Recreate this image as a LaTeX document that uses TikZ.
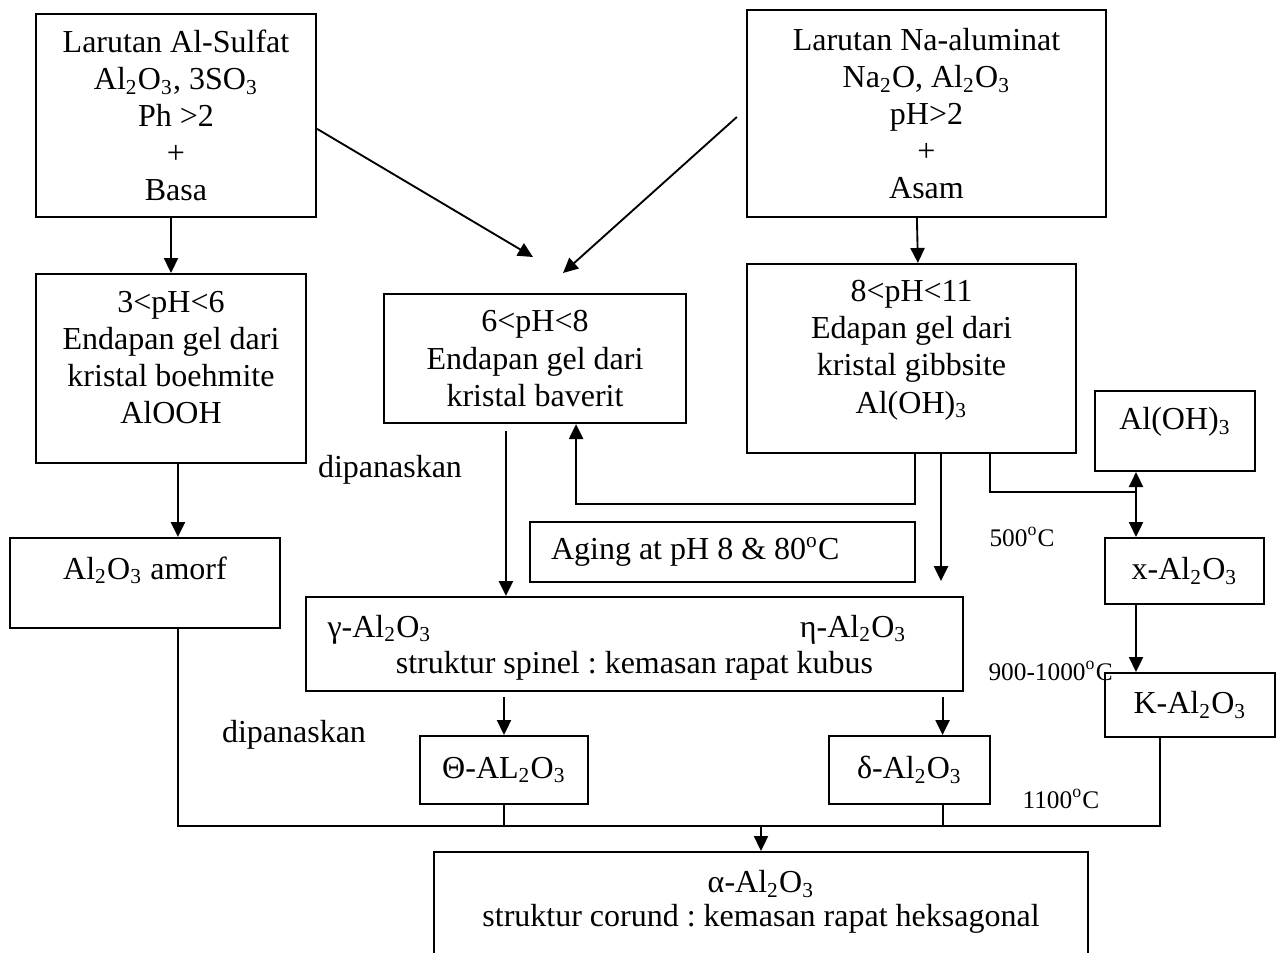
\documentclass[tikz,border=0pt]{standalone}
\usepackage{fontspec}
\setmainfont{Liberation Serif}
\usetikzlibrary{arrows.meta}

\tikzset{
  kotak/.style={draw, line width=0.8pt, align=center, inner sep=2pt},
  ukuran/.style 2 args={minimum width=#1*0.375pt, minimum height=#2*0.375pt},
  panah/.style={-{Triangle[length=5.6pt,width=5.3pt]}, line width=0.7pt},
  garis/.style={line width=0.7pt},
  suhu/.style={font=\fontsize{9.5}{11}\selectfont, inner sep=0pt},
}

\begin{document}
\fontsize{12}{13.9}\selectfont\frenchspacing
\begin{tikzpicture}[x=0.375pt, y=-0.375pt]
    \useasboundingbox (0,0) rectangle (1284,952);
    \clip (0,0) rectangle (1284,952);

    % Larutan awal
    \node[kotak, ukuran={280}{203}] (sulfat) at (176,115.5) {Larutan Al-Sulfat\\ Al\textsubscript{2}O\textsubscript{3}, 3SO\textsubscript{3}\\ Ph >2\\ +\\ Basa};
    \node[kotak, ukuran={359}{207}] (aluminat) at (926.5,113.5) {Larutan Na-aluminat\\ Na\textsubscript{2}O, Al\textsubscript{2}O\textsubscript{3}\\ pH>2\\ +\\ Asam};

    % Endapan gel
    \node[kotak, ukuran={270}{189}, text height=44.6pt, text depth=3pt] (boehmit) at (171,368.5) {3<pH<6\\ Endapan gel dari\\ kristal boehmite\\ AlOOH};
    \node[kotak, ukuran={302}{129}] (baverit) at (535,358.5) {6<pH<8\\ Endapan gel dari\\ kristal baverit};
    \node[kotak, ukuran={329}{189}, text height=43.9pt, text depth=3pt] (gibbsit) at (911.5,358.5) {8<pH<11\\ Edapan gel dari\\ kristal gibbsite\\ Al(OH)\textsubscript{3}};

    % Jalur kanan
    \node[kotak, ukuran={160}{80}, text height=9pt, text depth=10pt] (aloh) at (1175,431) {Al(OH)\textsubscript{3}};
    \node[kotak, ukuran={159}{66}] (chi) at (1184.5,571) {x-Al\textsubscript{2}O\textsubscript{3}};
    \node[kotak, ukuran={170}{64}] (kappa) at (1190,705) {K-Al\textsubscript{2}O\textsubscript{3}};

    % Amorf dan aging
    \node[kotak, ukuran={270}{90}, text height=9pt, text depth=12pt] (amorf) at (145,583) {Al\textsubscript{2}O\textsubscript{3} amorf};
    \node[kotak, ukuran={385}{60}] (aging) at (722.5,552) {\makebox[128.6pt][l]{Aging at pH 8 \& 80\textsuperscript{o}C}};

    % Struktur spinel
    \node[kotak, ukuran={657}{94}, text height=24.75pt, text depth=3pt] (spinel) at (634.5,644) {struktur spinel : kemasan rapat kubus};
    \node[anchor=base west, inner sep=0pt] (gamma) at (327,637) {γ-Al\textsubscript{2}O\textsubscript{3}};
    \node[anchor=base east, inner sep=0pt] (eta) at (907,637) {η-Al\textsubscript{2}O\textsubscript{3}};

    \node[kotak, ukuran={168}{68}] (theta) at (504,770) {Θ-AL\textsubscript{2}O\textsubscript{3}};
    \node[kotak, ukuran={161}{68}] (delta) at (909.5,770) {δ-Al\textsubscript{2}O\textsubscript{3}};

    % Struktur corund
    \node[kotak, ukuran={654}{108}, text height=18pt, text depth=3pt] (alpha) at (761,906) {α-Al\textsubscript{2}O\textsubscript{3}\\[-1.5pt] struktur corund : kemasan rapat heksagonal};

    % Label
    \node[anchor=base, inner sep=0pt] (panas1) at (390,477) {dipanaskan};
    \node[anchor=base, inner sep=0pt] (panas2) at (294,742) {dipanaskan};
    \node[suhu, anchor=base west] (t500) at (989,546) {500\textsuperscript{o}C};
    \node[suhu, anchor=base west] (t900) at (988,680) {900-1000\textsuperscript{o}C};
    \node[suhu, anchor=base west] (t1100) at (1022,808) {1100\textsuperscript{o}C};

    % Panah atas
    \coordinate (ujung1) at (533,257);
    \coordinate (ujung2) at (563,273);
    \draw[panah] (sulfat.south -| boehmit.north) -- (boehmit.north);
    \draw[panah] ([yshift=-5pt]sulfat.east) -- (ujung1);
    \draw[panah] ([shift={(-3.4pt,-1.3pt)}]aluminat.west) -- (ujung2);
    \draw[panah] ([xshift=-3.6pt]aluminat.south) -- ([xshift=2.4pt]gibbsit.north);

    % Panah tengah
    \draw[panah] ([xshift=2.6pt]boehmit.south) -- ([xshift=2.6pt]boehmit.south |- amorf.north);
    \draw[panah] ([shift={(-10.9pt,-2.6pt)}]baverit.south) -- ([xshift=-10.9pt]baverit.south |- spinel.north);
    \draw[panah] ([xshift=1.3pt]gibbsit.south) -- ++(0,50) -| ([xshift=15.4pt]baverit.south);
    \coordinate (ujung3) at (941,581);
    \draw[panah] (gibbsit.south -| ujung3) -- (ujung3);

    % Jalur 500 C
    \coordinate (simpang) at (1136,492);
    \draw[garis] ([xshift=29.4pt]gibbsit.south) |- (simpang);
    \draw[panah] (simpang) -- (simpang |- aloh.south);
    \draw[panah] (simpang) -- (simpang |- chi.north);
    \draw[panah] (simpang |- chi.south) -- (simpang |- kappa.north);

    % Spinel ke theta dan delta
    \draw[panah] (theta.north) ++(0,-38) -- (theta.north);
    \draw[panah] ([xshift=12.4pt]delta.north) ++(0,-38) -- ([xshift=12.4pt]delta.north);

    % Kumpul ke alpha
    \coordinate (kumpul) at (761,826);
    \draw[garis] ([xshift=12.4pt]amorf.south) |- (kumpul) -| ([xshift=-11.2pt]kappa.south);
    \draw[garis] (theta.south) -- (theta.south |- kumpul);
    \draw[garis] ([xshift=12.4pt]delta.south) -- ([xshift=12.4pt]delta.south |- kumpul);
    \draw[panah] (kumpul) -- (kumpul |- alpha.north);
\end{tikzpicture}
\end{document}
